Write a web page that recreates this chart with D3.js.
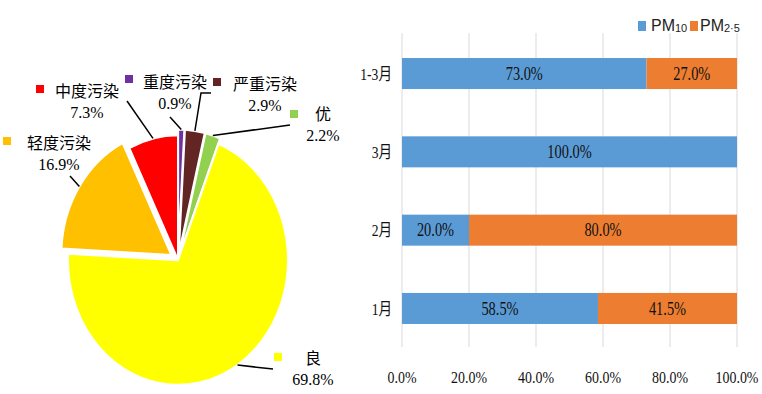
<!DOCTYPE html>
<html><head><meta charset="utf-8">
<script src="https://cdn.jsdelivr.net/npm/d3@7"></script>
<style>body{margin:0;background:#fff}svg{display:block}</style>
</head><body><svg id="c" width="762" height="394"></svg>
<script>
// ---- data ----
const pieNames = ["重度污染", "严重污染", "优", "良", "轻度污染", "中度污染"];
const pieValues = [0.9, 2.9, 2.2, 69.8, 16.9, 7.3];
const pieLabels = ["0.9%", "2.9%", "2.2%", "69.8%", "16.9%", "7.3%"];

const barCategories = ["1-3月", "3月", "2月", "1月"];
const pm10Values = [73.0, 100.0, 20.0, 58.5];
const pm25Values = [27.0, 0.0, 80.0, 41.5];
const xTickLabels = ["0.0%", "20.0%", "40.0%", "60.0%", "80.0%", "100.0%"];

// ---- styles / layout ----
const pieColors = ["#7030A0", "#632523", "#92D050", "#FFFF00", "#FFC000", "#FF0000"];
const pieExplode = [5, 5, 5, 0, 8, 0];
const labelPos = [ // name start x, name center y, square, leader points on label side
  {x:143, y:82, sq:[125,75], lead:[[170,117]]},
  {x:233, y:84, sq:[213,78], lead:[[211,93],[201,93]]},
  {x:315, y:114, sq:[290,110], lead:[[290,125]]},
  {x:305, y:358, sq:[274,353], lead:[[273,369]]},
  {x:27, y:143, sq:[3,137], lead:[[70,176]]},
  {x:55, y:91, sq:[36,85], lead:[[127,101]]}
];
const serif = "'Liberation Serif','Noto Sans CJK SC',serif";

const svg = d3.select("#c");

// ---- pie ----
const cx = 178, cy = 260, R = 110, SY = 1.136;
const pie = d3.pie().sort(null).value(d => d).startAngle(0).endAngle(2*Math.PI);
const arcs = pie(pieValues);
const arc = d3.arc().innerRadius(0).outerRadius(R);
const pg = svg.append("g").attr("transform", `translate(${cx},${cy}) scale(1,${SY})`);
pg.selectAll("path").data(arcs).join("path")
  .attr("d", arc)
  .attr("transform", (d,i) => {
    const m = (d.startAngle + d.endAngle)/2, e = pieExplode[i];
    return `translate(${e*Math.sin(m)},${-e*Math.cos(m)})`;
  })
  .attr("fill", (d,i) => pieColors[i])
  .attr("stroke", "#fff").attr("stroke-width", 2).attr("stroke-linejoin", "round");

// leader lines
arcs.forEach((d,i) => {
  const m = (d.startAngle + d.endAngle)/2, r = R + pieExplode[i];
  const px = cx + r*Math.sin(m), py = cy - r*Math.cos(m)*SY;
  const pts = labelPos[i].lead.concat([[px,py]]);
  svg.append("path").attr("d", d3.line()(pts))
    .attr("fill","none").attr("stroke","#000").attr("stroke-width",1.5);
});

// labels
arcs.forEach((d,i) => {
  const L = labelPos[i];
  svg.append("rect").attr("x", L.sq[0]).attr("y", L.sq[1]).attr("width", 8).attr("height", 8)
    .attr("fill", pieColors[i]);
  const t = svg.append("text").attr("x", L.x).attr("y", L.y)
    .attr("dominant-baseline","central").attr("font-family", serif)
    .attr("font-size", 16).attr("fill","#000").text(pieNames[i]);
  const w = t.node().getComputedTextLength();
  svg.append("text").attr("x", L.x + w/2).attr("y", L.y + 21)
    .attr("dominant-baseline","central").attr("text-anchor","middle")
    .attr("font-family", serif).attr("font-size", 16).attr("fill","#000").text(pieLabels[i]);
});

// ---- bar chart ----
const x = d3.scaleLinear().domain([0,100]).range([402,737]);
const y = d3.scaleBand().domain(barCategories).range([35,347]).paddingInner(0.604).paddingOuter(0.294);
const tickVals = d3.range(0, 101, 20);

svg.append("g").selectAll("line").data(tickVals).join("line")
  .attr("x1", d => x(d)).attr("x2", d => x(d)).attr("y1", 33).attr("y2", 347)
  .attr("stroke", "#d9d9d9").attr("stroke-width", 1);

function stext(g, tx, ty, str, size, sx, anchor) {
  return g.append("text").attr("transform", `translate(${tx},${ty}) scale(${sx},1)`)
    .attr("text-anchor", anchor).attr("dominant-baseline","central")
    .attr("font-family", serif).attr("font-size", size).attr("fill","#111").text(str);
}

const bg = svg.append("g");
barCategories.forEach((c,i) => {
  const y0 = y(c), h = y.bandwidth();
  const a = pm10Values[i], b = pm25Values[i];
  bg.append("rect").attr("x", x(0)).attr("y", y0).attr("width", x(a)-x(0)).attr("height", h).attr("fill","#5B9BD5");
  if (b > 0) bg.append("rect").attr("x", x(a)).attr("y", y0).attr("width", x(a+b)-x(a)).attr("height", h).attr("fill","#ED7D31");
  stext(bg, (x(0)+x(a))/2, y0+h/2, a.toFixed(1)+"%", 18, 0.8, "middle");
  if (b > 0) stext(bg, (x(a)+x(a+b))/2, y0+h/2, b.toFixed(1)+"%", 18, 0.8, "middle");
  stext(bg, 392, y0+h/2, c, 17, 0.8, "end");
});

// x axis labels
tickVals.forEach((v,i) => stext(svg, x(v), 377, xTickLabels[i], 17, 0.82, "middle"));

// legend
const lg = svg.append("g").attr("font-family","'Liberation Sans','Open Sans',sans-serif").attr("fill","#222");
lg.append("rect").attr("x",638).attr("y",21).attr("width",8).attr("height",10).attr("fill","#5B9BD5");
const t1 = lg.append("text").attr("x",651).attr("y",31).attr("font-size",16);
t1.append("tspan").text("PM");
t1.append("tspan").attr("font-size",11).attr("dy",1).text("10");
lg.append("rect").attr("x",690).attr("y",21).attr("width",8).attr("height",10).attr("fill","#ED7D31");
const t2 = lg.append("text").attr("x",700).attr("y",31).attr("font-size",16);
t2.append("tspan").text("PM");
t2.append("tspan").attr("font-size",11).attr("dy",1).text("2·5");
</script></body></html>
